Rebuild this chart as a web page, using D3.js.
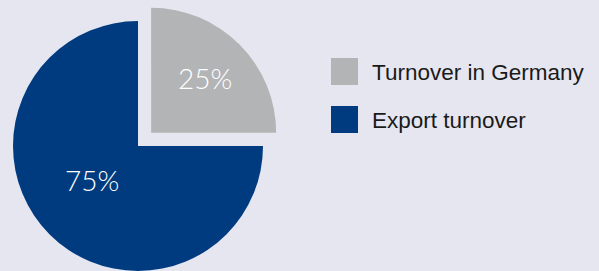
<!DOCTYPE html>
<html><head><meta charset="utf-8">
<script src="https://cdn.jsdelivr.net/npm/d3@7"></script>
<style>html,body{margin:0;padding:0;background:#e6e6f0;}svg{display:block;}</style>
</head><body>
<script>
const categories = ["Turnover in Germany", "Export turnover"];
const values = [25, 75];
const labels = ["25%", "75%"];
const colors = ["#b3b4b5", "#003b80"];

const W = 599, H = 271;
const svg = d3.select("body").append("svg").attr("width", W).attr("height", H);
svg.append("rect").attr("width", W).attr("height", H).attr("fill", "#e6e6f0");

const cx = 138, cy = 146, R = 125;
const explode = 18.6; // offset of first slice along its bisector
const pie = d3.pie().sort(null).value(d => d)(values);
const arc = d3.arc().innerRadius(0).outerRadius(R);
const labelR = [0.61, 0.46];
const labelAngleShift = [0, 0.14];

const g = svg.append("g").attr("transform", `translate(${cx},${cy})`);
pie.forEach((p, i) => {
  const mid = (p.startAngle + p.endAngle) / 2;
  const off = i === 0 ? explode : 0;
  const ox = Math.sin(mid) * off, oy = -Math.cos(mid) * off;
  const sg = g.append("g").attr("transform", `translate(${ox},${oy})`);
  sg.append("path").attr("d", arc(p)).attr("fill", colors[i]);
  const la = mid + labelAngleShift[i];
  sg.append("text")
    .attr("x", Math.sin(la) * R * labelR[i])
    .attr("y", -Math.cos(la) * R * labelR[i])
    .attr("dy", "0.36em")
    .attr("text-anchor", "middle")
    .attr("fill", "#ffffff")
    .attr("font-family", "Lato, 'Liberation Sans', sans-serif")
    .attr("font-weight", 300)
    .attr("font-size", 28)
    .text(labels[i]);
});

const leg = svg.append("g").attr("transform", "translate(331,58)");
categories.forEach((c, i) => {
  const row = leg.append("g").attr("transform", `translate(0,${i * 48})`);
  row.append("rect").attr("width", 27).attr("height", 27).attr("fill", colors[i]);
  row.append("text").attr("x", 41).attr("y", 22)
    .attr("fill", "#1a1a1a")
    .attr("font-family", "'Liberation Sans', Arial, sans-serif")
    .attr("font-size", 22.5)
    .text(c);
});
</script>
</body></html>
